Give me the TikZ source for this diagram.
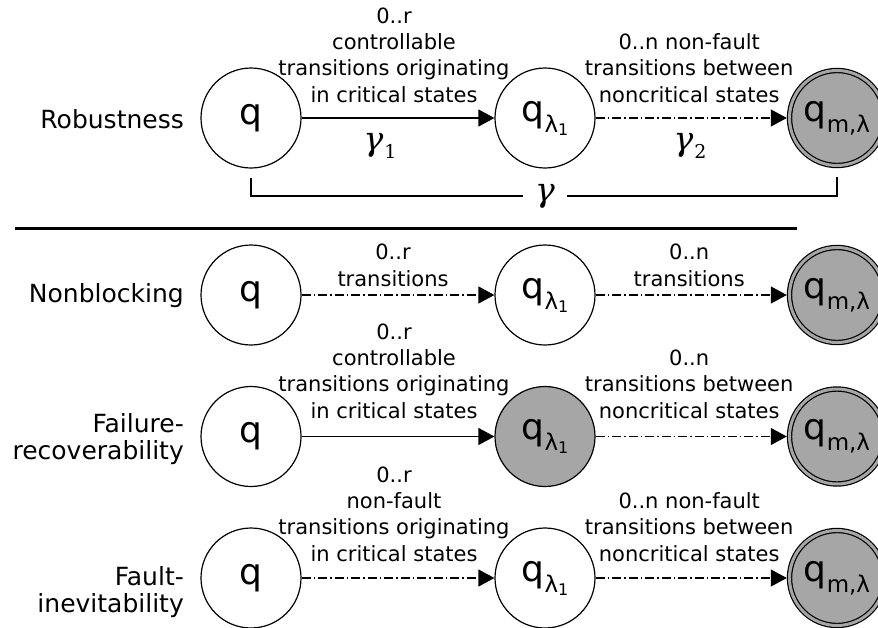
\documentclass[tikz,border=0pt]{standalone}
\usepackage{fontspec}
\setmainfont{DejaVu Sans}
\newfontfamily\gammafont{DejaVu Serif}
\usetikzlibrary{arrows.meta}
\definecolor{stategray}{RGB}{166,166,166}

% state labels
\newcommand{\stq}{q}
\newcommand{\stlam}{q\raisebox{-11pt}{\fontsize{23}{23}\selectfont λ\raisebox{-3pt}{\fontsize{16}{16}\selectfont 1}}}
\newcommand{\stmark}{q\raisebox{-11pt}{\fontsize{23}{23}\selectfont m,λ}}
% path-length symbols
\newcommand{\gsym}{{\gammafont\itshape γ}}
\newcommand{\gsub}[1]{\gsym\kern1pt\raisebox{-8pt}{\fontsize{19}{19}\selectfont\gammafont #1}}

\begin{document}
\begin{tikzpicture}[x=1pt,y=-1pt,
  state/.style={circle, draw, line width=1.2pt, minimum size=100pt, inner sep=0pt,
    font=\fontsize{36}{36}\selectfont},
  critical/.style={state, fill=stategray},
  marked/.style={circle, draw, line width=1.2pt, double=stategray, double distance=3pt,
    fill=stategray, minimum size=95pt, inner sep=0pt, outer sep=2.7pt,
    font=\fontsize{36}{36}\selectfont},
  trans/.style={line width=1.2pt, -{Triangle[length=16pt,width=17pt]}},
  dashdot/.style={dash pattern=on 9pt off 3pt on 1.5pt off 3pt},
  lab/.style={font=\fontsize{21}{26.2}\selectfont, align=center, inner sep=0pt},
  side/.style={font=\fontsize{25}{27}\selectfont, align=right, inner sep=0pt},
  gam/.style={font=\fontsize{33}{33}\selectfont, inner sep=0pt},
  bracket/.style={line width=1.2pt},
]
\useasboundingbox (0,0) rectangle (878,627);

% row 1: robustness
\node[side, anchor=base east] (s1) at (184,128) {Robustness};
\node[state] (a1) at (251,118) {\stq};
\node[state] (a2) at (545,118) {\stlam};
\node[marked] (a3) at (837,118) {\stmark};
\draw[trans] (a1) -- node[lab, above=15pt, xshift=-4pt] (la1)
  {0..r\\controllable\\transitions originating\\in critical states} (a2);
\draw[trans, dashdot] (a2) -- node[lab, above=15pt, xshift=-2pt] (la2)
  {0..n non-fault\\transitions between\\noncritical states} (a3);
\node[gam, anchor=base] (g1) at (380,150) {\gsub{1}};
\node[gam, anchor=base] (g2) at (690,150) {\gsub{2}};
\node[gam, inner xsep=12pt] (g) at (545,196) {\raisebox{3pt}{\gsym}};
\draw[bracket] ([yshift=-9pt]a1.south) |- (g.west);
\draw[bracket] ([yshift=-9pt]a3.south) |- (g.east);

% separator
\draw[line width=3pt] (15,228) -- (797,228);

% row 2: nonblocking
\node[side, anchor=base east] (s2) at (184,302) {Nonblocking};
\node[state] (b1) at (251,295) {\stq};
\node[state] (b2) at (545,295) {\stlam};
\node[marked] (b3) at (837,295) {\stmark};
\draw[trans, dashdot] (b1) -- node[lab, above=8pt, xshift=-5pt] (lb1)
  {0..r\\transitions} (b2);
\draw[trans, dashdot] (b2) -- node[lab, above=8pt, xshift=-2pt] (lb2)
  {0..n\\transitions} (b3);

% row 3: failure-recoverability
\node[side, anchor=north east] (s3) at (184,413) {Failure-\\recoverability};
\node[state] (c1) at (251,436.5) {\stq};
\node[critical] (c2) at (545,436.5) {\stlam};
\node[marked] (c3) at (837,436.5) {\stmark};
\draw[trans] (c1) -- node[lab, above=17.5pt, xshift=-4pt] (lc1)
  {0..r\\controllable\\transitions originating\\in critical states} (c2);
\draw[trans, dashdot] (c2) -- node[lab, above=17.5pt, xshift=-2pt] (lc2)
  {0..n\\transitions between\\noncritical states} (c3);

% row 4: fault-inevitability
\node[side, anchor=north east] (s4) at (184,566) {Fault-\\inevitability};
\node[state] (d1) at (251,578) {\stq};
\node[state] (d2) at (545,578) {\stlam};
\node[marked] (d3) at (837,578) {\stmark};
\draw[trans, dashdot] (d1) -- node[lab, above=16pt, xshift=-4pt] (ld1)
  {0..r\\non-fault\\transitions originating\\in critical states} (d2);
\draw[trans, dashdot] (d2) -- node[lab, above=16pt, xshift=-2pt] (ld2)
  {0..n non-fault\\transitions between\\noncritical states} (d3);
\end{tikzpicture}
\end{document}
